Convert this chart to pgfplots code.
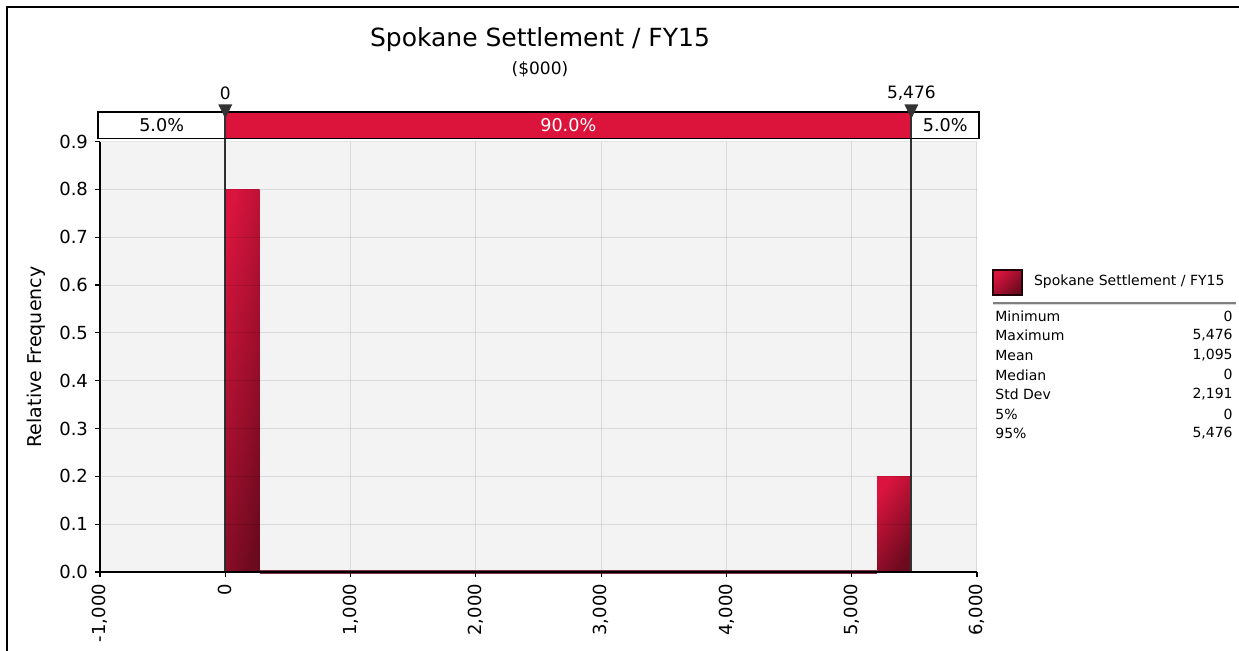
\documentclass[border=0pt]{standalone}
\usepackage{pgfplots}
\pgfplotsset{compat=1.18}
\usepackage{fontspec}
\setmainfont{DejaVu Sans}
\definecolor{crim}{RGB}{220,20,60}
\definecolor{barlight}{RGB}{218,20,62}
\definecolor{bardark}{RGB}{108,10,30}
\definecolor{bgcol}{RGB}{243,243,243}
\definecolor{markc}{RGB}{50,50,50}
\begin{document}
\begin{tikzpicture}
\path[use as bounding box] (0,0) rectangle (619.5pt,325.5pt);
\begin{axis}[
  at={(50pt,39.5pt)}, anchor=south west,
  scale only axis, width=438.5pt, height=215.2pt,
  xmin=-1000, xmax=6000, ymin=0, ymax=0.9,
  xtick={-1000,0,1000,2000,3000,4000,5000,6000},
  ytick={0,0.1,0.2,0.3,0.4,0.5,0.6,0.7,0.8,0.9},
  axis x line*=bottom, axis y line*=left,
  x axis line style={black, line width=1pt},
  y axis line style={black, line width=1pt},
  tick style={black, line width=0.6pt},
  tick align=outside, major tick length=2.5pt,
  grid=major,
  major grid style={black, opacity=0.1, line width=0.5pt},
  axis background/.style={fill=bgcol},
  axis on top,
  clip=false,
  /pgf/number format/assume math mode=true,
  tick label style={font=\fontsize{9}{10}\selectfont},
  xticklabel style={rotate=90, anchor=east, /pgf/number format/1000 sep={,}},
  yticklabel style={/pgf/number format/.cd, fixed, fixed zerofill, precision=1},
  barsty/.style={ybar, bar width=273.8, bar shift=0pt, draw=none,
    top color=barlight, bottom color=bardark, shading angle=#1},
]
% histogram bars (bin width 5476/20 = 273.8)
\addplot[barsty=78] coordinates {(136.9,0.8)};
\addplot[barsty=55] coordinates {(5339.1,0.2)};
% empty bins
\addplot[bardark!85, line width=1.6pt] coordinates {(273.8,0) (5202.2,0)};
% percentile marker lines
\draw[markc, line width=0.9pt] (axis cs:0,0) -- (axis cs:0,0.9621);
\draw[markc, line width=0.9pt] (axis cs:5476,0) -- (axis cs:5476,0.9621);
% band
\fill[white] (axis cs:-1016,0.9067) rectangle (axis cs:6016,0.9621);
\fill[crim] (axis cs:0,0.9067) rectangle (axis cs:5476,0.9621);
\draw[black, line width=0.8pt] (axis cs:-1016,0.9067) rectangle (axis cs:6016,0.9621);
\draw[markc, line width=0.9pt] (axis cs:0,0.9067) -- (axis cs:0,0.9621);
\draw[markc, line width=0.9pt] (axis cs:5476,0.9067) -- (axis cs:5476,0.9621);
\node[font=\fontsize{8.8}{10}\selectfont] at (axis cs:-508,0.9344) {5.0\%};
\node[font=\fontsize{8.8}{10}\selectfont, text=white] at (axis cs:2738,0.9344) {90.0\%};
\node[font=\fontsize{8.8}{10}\selectfont] at (axis cs:5746,0.9344) {5.0\%};
% triangles
\fill[markc] (axis cs:-56,0.978) -- (axis cs:56,0.978) -- (axis cs:0,0.948) -- cycle;
\fill[markc] (axis cs:5420,0.978) -- (axis cs:5532,0.978) -- (axis cs:5476,0.948) -- cycle;
\node[font=\fontsize{8.5}{10}\selectfont] at (axis cs:0,1.0019) {0};
\node[font=\fontsize{8.5}{10}\selectfont] at (axis cs:5476,1.0019) {5,476};
\end{axis}
\begin{scope}[x=0.5pt, y=-0.5pt, shift={(0pt,325.5pt)}]
\draw[black, line width=1pt] (7,651) -- (7,7) -- (1239,7);
\node[font=\fontsize{12.5}{15}\selectfont] at (540,40) {Spokane Settlement / FY15};
\node[font=\fontsize{8.5}{10}\selectfont] at (540,69) {(\$000)};
\node[font=\fontsize{9.5}{11}\selectfont, rotate=90] at (36,357) {Relative Frequency};
% legend
\shade[top color=barlight, bottom color=bardark, shading angle=45] (993,270) rectangle (1022,295);
\draw[black!70!bardark, line width=0.6pt] (993,270) rectangle (1022,295);
\node[font=\fontsize{7}{8}\selectfont, anchor=west] at (1027,282) {Spokane Settlement / FY15};
\draw[gray, line width=0.8pt] (993,303) -- (1236,303);
\draw[gray!30, line width=0.5pt] (993,304.5) -- (1236,304.5);
\foreach \lab/\val [count=\i from 0] in {Minimum/0, Maximum/{5,476}, Mean/{1,095}, Median/0, Std Dev/{2,191}, 5\%/0, 95\%/{5,476}} {
  \node[font=\fontsize{7}{8}\selectfont, anchor=west, inner sep=0pt] at (995,316+19.6*\i) {\lab};
  \node[font=\fontsize{7}{8}\selectfont, anchor=east, inner sep=0pt] at (1233,316+19.6*\i) {\val};
}
\end{scope}
\end{tikzpicture}
\end{document}
